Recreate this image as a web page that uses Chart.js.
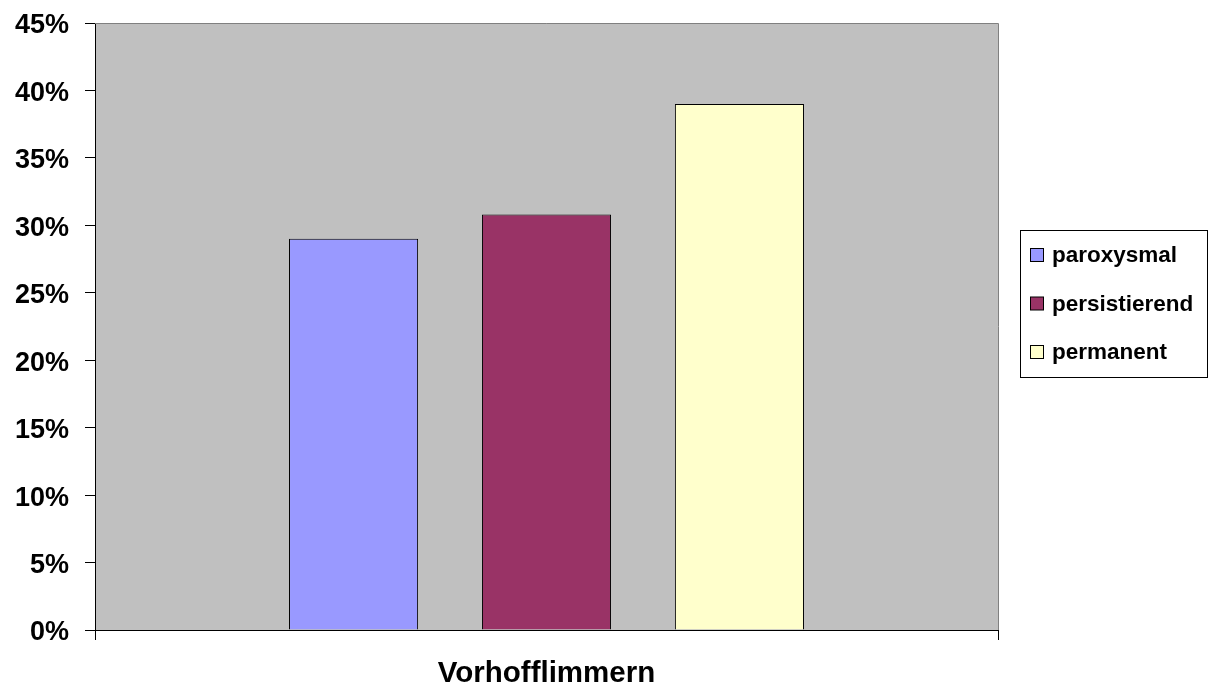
<!DOCTYPE html>
<html>
<head>
<meta charset="utf-8">
<script src="https://cdn.jsdelivr.net/npm/chart.js@4.4.1/dist/chart.umd.min.js"></script>
<style>
html,body{margin:0;padding:0;background:#fff;}
#wrap{width:1215px;height:686px;position:relative;}
</style>
</head>
<body>
<div id="wrap"><canvas id="c" width="1215" height="686"></canvas></div>
<script>
const categories = ["Vorhofflimmern"];
const seriesNames = ["paroxysmal", "persistierend", "permanent"];
const paroxysmal = [29.0];
const persistierend = [30.8];
const permanent = [39.0];
const yTicks = [0, 5, 10, 15, 20, 25, 30, 35, 40, 45];
const colors = ["#9999FF", "#993366", "#FFFFCC"];

const FONT = "'Liberation Sans', Arial, sans-serif";

const bgPlugin = {
  id: 'bg',
  beforeDraw(chart) {
    const {ctx, chartArea: a} = chart;
    ctx.save();
    ctx.fillStyle = '#C0C0C0';
    ctx.fillRect(a.left, a.top, a.right - a.left, a.bottom - a.top);
    ctx.restore();
  },
  afterDatasetsDraw(chart) {
    const {ctx, chartArea: a} = chart;
    ctx.save();
    ctx.lineWidth = 1;
    ctx.strokeStyle = '#808080';
    ctx.beginPath();
    ctx.moveTo(a.left, a.top + 0.5);
    ctx.lineTo(a.right + 0.5, a.top + 0.5);
    ctx.lineTo(a.right + 0.5, a.bottom);
    ctx.stroke();
    ctx.restore();
  },
  afterDraw(chart) {
    const ctx = chart.ctx;
    const x0 = 1020.5, y0 = 230.5, w = 187, h = 147;
    ctx.save();
    ctx.fillStyle = '#fff';
    ctx.fillRect(x0, y0, w, h);
    ctx.strokeStyle = '#000';
    ctx.lineWidth = 1;
    ctx.strokeRect(x0, y0, w, h);
    ctx.font = "bold 22.5px " + FONT;
    ctx.textBaseline = 'middle';
    chart.data.datasets.forEach((ds, i) => {
      const cy = 255 + i * 48.5;
      ctx.fillStyle = ds.backgroundColor;
      ctx.fillRect(1030.5, cy - 6.5, 13, 13);
      ctx.strokeStyle = '#000';
      ctx.strokeRect(1030.5, cy - 6.5, 13, 13);
      ctx.fillStyle = '#000';
      ctx.fillText(ds.label, 1052, cy + 1);
    });
    ctx.restore();
  }
};

new Chart(document.getElementById('c'), {
  type: 'bar',
  data: {
    labels: categories,
    datasets: [
      {label: seriesNames[0], data: paroxysmal, backgroundColor: colors[0], borderColor: '#000', borderWidth: 1},
      {label: seriesNames[1], data: persistierend, backgroundColor: colors[1], borderColor: '#000', borderWidth: 1},
      {label: seriesNames[2], data: permanent, backgroundColor: colors[2], borderColor: '#000', borderWidth: 1}
    ]
  },
  options: {
    responsive: false,
    animation: false,
    devicePixelRatio: 1,
    categoryPercentage: 0.641,
    barPercentage: 0.669,
    layout: {padding: {left: 0, right: 217, top: 23, bottom: 0}},
    plugins: {legend: {display: false}, tooltip: {enabled: false}},
    scales: {
      x: {
        offset: true,
        grid: {display: true, drawOnChartArea: false, color: '#000', tickLength: 10, offset: true},
        border: {display: true, color: '#000', width: 1},
        ticks: {color: '#000', font: {family: FONT, size: 29.5, weight: 'bold'}, padding: 16},
        afterFit(s) { s.height = 56; s.paddingLeft = 0; s.paddingRight = 0; }
      },
      y: {
        min: 0, max: 45,
        afterBuildTicks(s) { s.ticks = yTicks.map(v => ({value: v})); },
        grid: {display: true, drawOnChartArea: false, color: '#000', tickLength: 10},
        border: {display: true, color: '#000', width: 1},
        ticks: {color: '#000', font: {family: FONT, size: 27, weight: 'bold'}, padding: 16,
                labelOffset: 3, callback: v => v + '%'},
        afterFit(s) { s.width = 95; s.paddingTop = 0; s.paddingBottom = 0; }
      }
    }
  },
  plugins: [bgPlugin]
});
</script>
</body>
</html>
